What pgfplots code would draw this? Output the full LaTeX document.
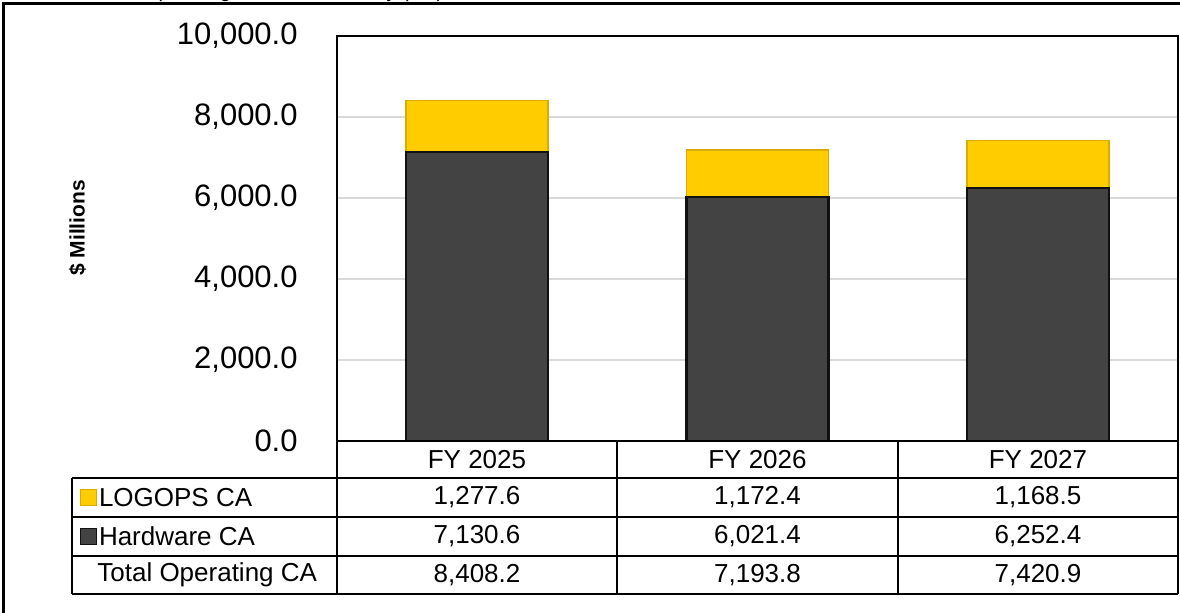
\documentclass[border=0pt]{standalone}
\usepackage{pgfplots}
\pgfplotsset{compat=1.18}
\usepackage{fontspec}
\setmainfont{Liberation Sans}

\definecolor{logops}{HTML}{FFCC00}
\definecolor{logopsedge}{HTML}{D9AD00}
\definecolor{hardware}{HTML}{434343}
\definecolor{hardwareedge}{HTML}{111111}
\definecolor{gridgray}{HTML}{D9D9D9}

\begin{document}
\begin{tikzpicture}
% page = 1180x613 px at 0.5pt per px
\useasboundingbox (0,0) rectangle (590pt,306.5pt);

% cut-off title and outer frame
\node[anchor=base west, inner sep=0pt, font=\fontsize{10}{12}\selectfont] at (47.5pt,307.5pt) {Total Operating Contract Authority (CA)};
\draw[line width=1.5pt] (1.5pt,-20pt) -- (1.5pt,304.5pt) -- (620pt,304.5pt);

\begin{axis}[
    at={(168.5pt,86pt)}, anchor=south west,
    scale only axis,
    width=420.5pt, height=202.5pt,
    xmin=-0.5, xmax=2.5,
    ymin=0, ymax=10000,
    ytick={0,2000,4000,6000,8000,10000},
    scaled y ticks=false,
    xtick=\empty,
    ymajorgrids=true,
    grid style={gridgray, line width=0.8pt},
    major tick length=0pt,
    axis line style={line width=1pt},
    ybar stacked,
    bar width=71pt,
    yticklabel style={anchor=east, inner sep=0pt, xshift=-19.5pt,
        font=\fontsize{15.5}{18}\selectfont},
    /pgf/number format/.cd, fixed, fixed zerofill, precision=1, 1000 sep={,}, assume math mode=true,
]
\addplot[fill=hardware, draw=hardwareedge, line width=1.1pt]
    coordinates {(0,7130.6) (1,6021.4) (2,6252.4)};
\addplot[fill=logops, draw=logopsedge, line width=0.9pt]
    coordinates {(0,1277.6) (1,1172.4) (2,1168.5)};
\end{axis}

% data table under the chart
\begin{scope}[line width=1pt]
\draw (168.5pt,86pt) -- (168.5pt,9.5pt);
\draw (308.5pt,86pt) -- (308.5pt,9.5pt);
\draw (449pt,86pt) -- (449pt,9.5pt);
\draw (589pt,86pt) -- (589pt,9.5pt);
\draw (168.5pt,86pt) -- (589pt,86pt);
\draw (36pt,67.5pt) -- (589pt,67.5pt);
\draw (36pt,48pt) -- (589pt,48pt);
\draw (36pt,28.5pt) -- (589pt,28.5pt);
\draw (36pt,9.5pt) -- (589pt,9.5pt);
\draw (36pt,67.5pt) -- (36pt,9.5pt);
\end{scope}

\begin{scope}[every node/.style={font=\fontsize{13}{15}\selectfont, inner sep=0pt}]
\node at (238.5pt,76.75pt) {FY 2025};
\node at (378.75pt,76.75pt) {FY 2026};
\node at (519pt,76.75pt) {FY 2027};

\node at (238.5pt,57.75pt) {1,277.6};
\node at (378.75pt,57.75pt) {1,172.4};
\node at (519pt,57.75pt) {1,168.5};

\node at (238.5pt,38.25pt) {7,130.6};
\node at (378.75pt,38.25pt) {6,021.4};
\node at (519pt,38.25pt) {6,252.4};

\node at (238.5pt,19pt) {8,408.2};
\node at (378.75pt,19pt) {7,193.8};
\node at (519pt,19pt) {7,420.9};

\node[anchor=west] at (49.3pt,57.75pt) {LOGOPS CA};
\node[anchor=west] at (49.3pt,38.25pt) {Hardware CA};
\node[anchor=west] at (48.5pt,19pt) {Total Operating CA};
\end{scope}
\fill[logops, draw=logopsedge, line width=0.5pt] (40.3pt,53.75pt) rectangle (48.3pt,61.75pt);
\fill[hardware, draw=hardwareedge, line width=0.5pt] (40.3pt,34.25pt) rectangle (48.3pt,42.25pt);

% y-axis title
\node[rotate=90, font=\bfseries\fontsize{10.5}{12}\selectfont] at (38.75pt,192.5pt) {\$ Millions};
\end{tikzpicture}
\end{document}
